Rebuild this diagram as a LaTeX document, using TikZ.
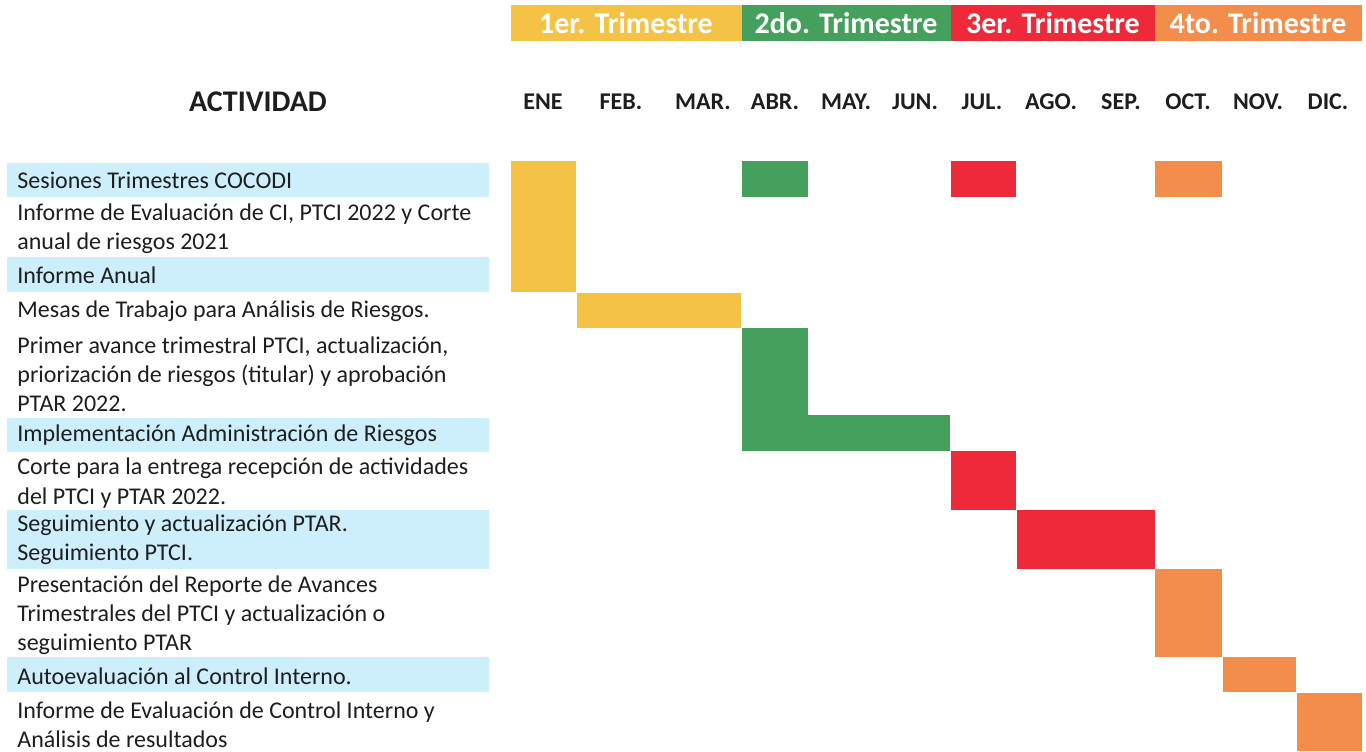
\documentclass[tikz,border=0pt]{standalone}
\usepackage{fontspec}
\setmainfont{Carlito}
\usetikzlibrary{positioning}

\definecolor{amarillo}{HTML}{F4C244}
\definecolor{verde}{HTML}{44A05C}
\definecolor{rojo}{HTML}{EE2A3A}
\definecolor{naranja}{HTML}{F28D4B}
\definecolor{celeste}{HTML}{CDEFFB}
\definecolor{texto}{HTML}{1E1E1E}

\tikzset{
    trim/.style={text=white, font=\bfseries\fontsize{15}{17}\selectfont},
    mes/.style={text=texto, font=\bfseries\fontsize{12}{14}\selectfont},
    act/.style={anchor=west, align=left, inner sep=0pt, text=texto,
        font=\fontsize{12}{14.6}\selectfont},
}

\begin{document}
\begin{tikzpicture}[x=0.5pt, y=-0.5pt]
    \useasboundingbox (0,0) rectangle (1366,751);

    % trimestres
    \fill[amarillo] (511,5) rectangle (742,41);
    \fill[verde] (742,5) rectangle (951,41);
    \fill[rojo] (951,5) rectangle (1155,41);
    \fill[naranja] (1155,5) rectangle (1362,41);
    \node[trim] (t1) at (626,23) {1er. Trimestre};
    \node[trim] (t2) at (846,23) {2do. Trimestre};
    \node[trim] (t3) at (1053,23) {3er. Trimestre};
    \node[trim] (t4) at (1258,23) {4to. Trimestre};

    % meses
    \node[text=texto, font=\bfseries\fontsize{15}{17}\selectfont] (actividad) at (258,102) {ACTIVIDAD};
    \foreach \x/\m in {543/ENE, 621/FEB., 703/MAR., 775/ABR., 846/MAY., 915/JUN.,
        982/JUL., 1051/AGO., 1121/SEP., 1188/OCT., 1258/NOV., 1328/DIC.}
        \node[mes] at (\x,102) {\m};

    % filas sombreadas
    \foreach \a/\b in {163/197, 257/292, 418/452, 510/569, 657/692}
        \fill[celeste] (7,\a) rectangle (489,\b);

    % actividades
    \node[act] (a1) at (17,180) {Sesiones Trimestres COCODI};
    \node[act] (a2) at (17,228.5) {Informe de Evaluación de CI, PTCI 2022 y Corte\\anual de riesgos 2021};
    \node[act] (a3) at (17,275) {Informe Anual};
    \node[act] (a4) at (17,311) {Mesas de Trabajo para Análisis de Riesgos.};
    \node[act] (a5) at (17,374) {Primer avance trimestral PTCI, actualización,\\priorización de riesgos (titular) y aprobación\\PTAR 2022.};
    \node[act] (a6) at (17,435) {Implementación Administración de Riesgos};
    \node[act] (a7) at (17,483) {Corte para la entrega recepción de actividades\\del PTCI y PTAR 2022.};
    \node[act] (a8) at (17,540) {Seguimiento y actualización PTAR.\\Seguimiento PTCI.};
    \node[act] (a9) at (17,615) {Presentación del Reporte de Avances\\Trimestrales del PTCI y actualización o\\seguimiento PTAR};
    \node[act] (a10) at (17,676) {Autoevaluación al Control Interno.};
    \node[act] (a11) at (17,725) {Informe de Evaluación de Control Interno y\\Análisis de resultados};

    % barras
    \fill[amarillo] (511,161) rectangle (576,292);
    \fill[amarillo] (577,293) rectangle (741,328);
    \fill[verde] (742,161) rectangle (808,197);
    \fill[verde] (742,328) rectangle (808,451);
    \fill[verde] (808,415) rectangle (950,451);
    \fill[rojo] (951,161) rectangle (1016,197);
    \fill[rojo] (951,451) rectangle (1016,510);
    \fill[rojo] (1017,510) rectangle (1155,569);
    \fill[naranja] (1155,161) rectangle (1222,197);
    \fill[naranja] (1155,569) rectangle (1222,657);
    \fill[naranja] (1223,657) rectangle (1296,692);
    \fill[naranja] (1297,693) rectangle (1362,751);
\end{tikzpicture}
\end{document}
